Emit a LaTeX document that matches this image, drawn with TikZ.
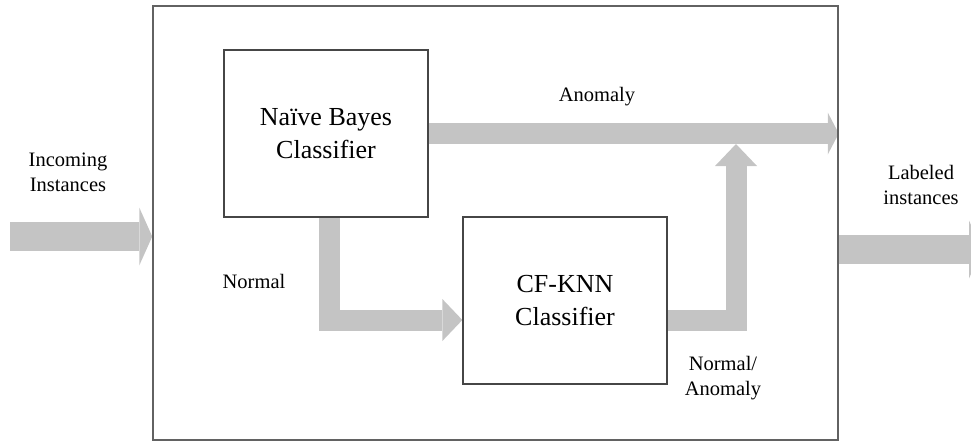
\documentclass[tikz,border=0pt]{standalone}
\usepackage{fontspec}
\setmainfont{Liberation Serif}
\usepackage{xcolor}
\usetikzlibrary{arrows.meta,backgrounds}
\definecolor{flowgray}{RGB}{196,196,196}
\definecolor{edgegray}{RGB}{70,70,70}

\tikzset{
    panel/.style={draw=edgegray!85, line width=1.5pt},
    box/.style={draw=edgegray, line width=1.3pt, align=center, font=\fontsize{26}{33}\selectfont},
    note/.style={align=center, font=\fontsize{20.5}{25}\selectfont},
    flowwide/.style={draw=flowgray, line width=29pt, -{Triangle[length=13pt 0, width=58pt 0, line width=0pt]}},
    flowthin/.style={draw=flowgray, line width=21pt, -{Triangle[length=#1 0, width=42pt 0, line width=0pt]}},
    flowthin/.default=11pt
}

\begin{document}
\begin{tikzpicture}[x=1pt, y=-1pt]
        \useasboundingbox (0,0) rectangle (971,444);
        \node[panel, minimum width=685pt, minimum height=434pt] (sys) at (495.5,223) {};
        \node[box, minimum width=204pt, minimum height=167pt] (nb) at (326,133.5) {Naïve Bayes\\Classifier};
        \node[box, minimum width=204pt, minimum height=167pt] (knn) at (565,300.5) {CF-KNN\\Classifier};

        \coordinate (src) at (10,236.5);
        \coordinate (dst) at (982,249.5);
        \coordinate (merge) at (736,144);

        \node[note] (incoming) at (68,172) {Incoming\\Instances};
        \node[note] (anomaly) at (597,97) {Anomaly};
        \node[note] (normal) at (254,281) {Normal};
        \node[note] (labeled) at (921,185) {Labeled\\instances};
        \node[note] (mixed) at (723,378) {Normal/\\Anomaly};

        \begin{scope}[on background layer]
            \clip (0,0) rectangle (971,444);
            \draw[flowwide] (src) -- (src -| sys.west);
            \draw[flowwide] (dst -| sys.east) -- (dst);
            \draw[flowthin] (nb.east) -- (nb.east -| sys.east);
            \draw[flowthin=20pt] ([xshift=3pt]nb.south) |- ([yshift=-19.5pt]knn.west);
            \draw[flowthin=22pt] ([yshift=-19.5pt]knn.east) -| (merge);
        \end{scope}
    \end{tikzpicture}
\end{document}
